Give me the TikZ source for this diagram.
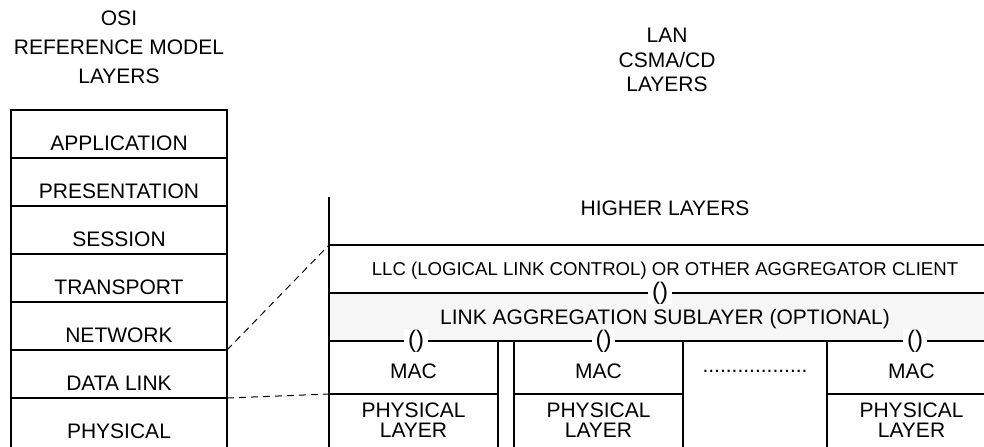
\documentclass[tikz,border=0pt]{standalone}
\usepackage{fontspec}
\setmainfont{Liberation Sans}
\usetikzlibrary{positioning}
\tikzset{
  wall/.style={draw=black, line width=0.8pt, outer sep=0pt},
  link/.style={draw=black, line width=0.5pt, dash pattern=on 3.5pt off 2.5pt}
}

\begin{document}
\begin{tikzpicture}[
  x=0.5pt, y=-0.5pt,
  font=\fontsize{10.5}{12.6}\selectfont,
  osi/.style={wall, inner ysep=0pt, minimum width=108pt, text height=20.26pt, text depth=3.74pt},
  lan/.style={wall, inner sep=0pt, minimum width=336pt, minimum height=24pt, text depth=0pt},
  mac/.style={wall, inner ysep=0pt, minimum width=84.5pt, text height=18.8pt, text depth=7.7pt},
  phy/.style={wall, inner ysep=4.5pt, minimum width=84.5pt, align=center, text depth=15pt, font=\fontsize{10.5}{10}\selectfont},
  sap/.style={fill=white, inner ysep=0.3pt, inner xsep=1.8pt, font=\fontsize{12}{14}\selectfont}
]
\useasboundingbox (0,0) rectangle (984,446);

\node[align=center, font=\fontsize{10.5}{14.5}\selectfont] (osiTitle) at (119,47) {OSI\\REFERENCE MODEL\\LAYERS};
\node[align=center, font=\fontsize{10.5}{12.25}\selectfont] (lanTitle) at (667,60) {LAN\\CSMA/CD\\LAYERS};

\node[osi, anchor=north] (osiApp) at (119,110) {APPLICATION};
\node[osi, below=0pt of osiApp] (osiPre) {PRESENTATION};
\node[osi, below=0pt of osiPre] (osiSes) {SESSION};
\node[osi, below=0pt of osiSes] (osiTra) {TRANSPORT};
\node[osi, below=0pt of osiTra] (osiNet) {NETWORK};
\node[osi, below=0pt of osiNet] (osiDl) {DATA LINK};
\node[osi, below=0pt of osiDl, text depth=13.74pt] (osiPhy) {PHYSICAL};

\coordinate (lanTop) at (329,197);
\node (higher) at (665,208) {HIGHER LAYERS};
\node[lan, anchor=north west, font=\fontsize{9.3}{11}\selectfont] (llc) at (329,245) {LLC (LOGICAL LINK CONTROL) OR OTHER AGGREGATOR CLIENT};
\node[lan, fill=gray!7, below=0pt of llc] (lag) {LINK AGGREGATION SUBLAYER (OPTIONAL)};

\node[mac, anchor=north west] (mac1) at (lag.south west) {MAC};
\node[mac, right=8pt of mac1] (mac2) {MAC};
\node[mac, anchor=north west, minimum width=72pt, text height=15.5pt, text depth=40pt] (macDots) at (mac2.north east) {..................};
\node[mac, anchor=north west] (mac4) at (macDots.north east) {MAC};

\node[phy, below=0pt of mac1] (phy1) {PHYSICAL\\LAYER};
\node[phy, below=0pt of mac2] (phy2) {PHYSICAL\\LAYER};
\node[phy, below=0pt of mac4] (phy4) {PHYSICAL\\LAYER};

\node[sap] (sapTop) at ([xshift=-2.5pt]llc.south) {()};
\node[sap] (sap1) at ([xshift=1.25pt]mac1.north) {()};
\node[sap] (sap2) at ([xshift=2.5pt]mac2.north) {()};
\node[sap] (sap4) at ([xshift=1.75pt]mac4.north) {()};

\draw[wall] (lanTop) -- (llc.north west);
\draw[link] (osiNet.south east) -- (llc.north west);
\draw[link] (osiDl.south east) -- (phy1.north west);
\end{tikzpicture}
\end{document}
